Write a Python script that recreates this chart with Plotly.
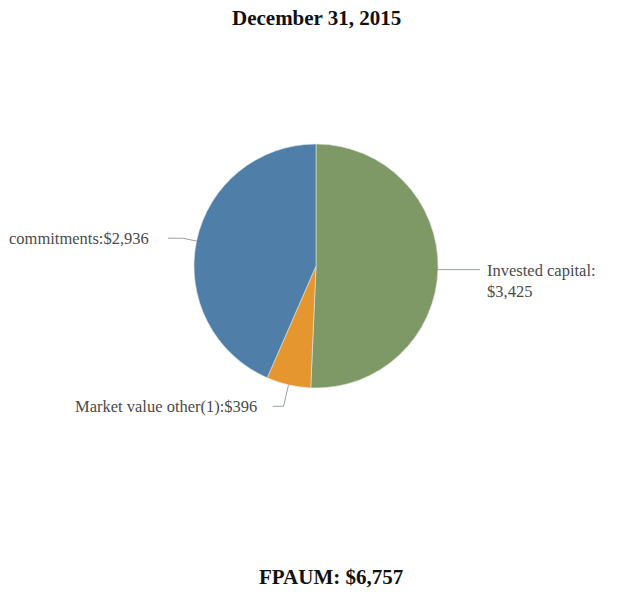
import math
import plotly.graph_objects as go

# Fee-paying AUM breakdown ($ millions)
labels = ["Invested capital", "Market value other(1)", "commitments"]
values = [3425, 396, 2936]
colors = ["#7f9966", "#e5962e", "#4f7fa8"]
title_text = "December 31, 2015"
total_text = "FPAUM: $6,757"

W, H = 626, 593
cx, cy, r = 316, 266, 122  # pie centre and radius in pixels

def px(x):
    return x / W

def py(y):
    return 1 - y / H

fig = go.Figure(go.Pie(
    labels=labels,
    values=values,
    sort=False,
    direction="clockwise",
    rotation=0,
    textinfo="none",
    hoverinfo="label+value",
    marker=dict(colors=colors, line=dict(color="#dfe6e0", width=0.6)),
    domain=dict(x=[px(cx - r), px(cx + r)], y=[py(cy + r), py(cy - r)]),
    showlegend=False,
))

# Leader lines and labels placed from each slice's mid-angle
total = sum(values)
shapes, annotations = [], []
start = 0.0
label_cfg = [
    # bend offset beyond the rim, horizontal run, gap to text, label side
    dict(bend=0, run=42, gap=5, side="right"),
    dict(bend=22, run=11, gap=14, side="left"),
    dict(bend=14, run=15, gap=17, side="left"),
]
label_size = 16.5
label_font = dict(family="Liberation Serif", size=label_size, color="#4a4a4a")
for lab, val, cfg in zip(labels, values, label_cfg):
    ang = start + val / total * 360 / 2
    start += val / total * 360
    a = math.radians(ang)
    ex, ey = cx + r * math.sin(a), cy - r * math.cos(a)
    rb = r + cfg["bend"]
    bx, by = cx + rb * math.sin(a), cy - rb * math.cos(a)
    if cfg["side"] == "right":
        by = by + 1
        tx = bx + cfg["run"]
    else:
        tx = bx - cfg["run"]
    path = f"M {px(ex)},{py(ey)} L {px(bx)},{py(by)} L {px(tx)},{py(by)}"
    shapes.append(dict(type="path", xref="paper", yref="paper", path=path,
                       line=dict(color="#9aa0a6", width=1)))
    if cfg["side"] == "right":
        # near the right edge: value wraps onto a second line to stay on the page
        text = f"{lab}:<br>${val:,}"
        annotations.append(dict(x=px(tx + cfg["gap"]), y=py(by - label_size * 0.62),
                                xref="paper", yref="paper",
                                text=text, showarrow=False, xanchor="left", yanchor="top",
                                align="left", font=label_font))
    else:
        text = f"{lab}:${val:,}"
        annotations.append(dict(x=px(tx - cfg["gap"]), y=py(by), xref="paper", yref="paper",
                                text=text, showarrow=False, xanchor="right", yanchor="middle",
                                font=label_font))

heading_font = dict(family="Liberation Serif", size=21, color="#111")
annotations.append(dict(x=px(316), y=py(18), xref="paper", yref="paper",
                        text=f"<b>{title_text}</b>", showarrow=False,
                        xanchor="center", yanchor="middle", font=heading_font))
annotations.append(dict(x=px(331), y=py(577), xref="paper", yref="paper",
                        text=f"<b>{total_text}</b>", showarrow=False,
                        xanchor="center", yanchor="middle", font=heading_font))

fig.update_layout(
    width=W, height=H,
    margin=dict(l=0, r=0, t=0, b=0),
    paper_bgcolor="white", plot_bgcolor="white",
    shapes=shapes, annotations=annotations,
)

fig.write_html("out.html")
